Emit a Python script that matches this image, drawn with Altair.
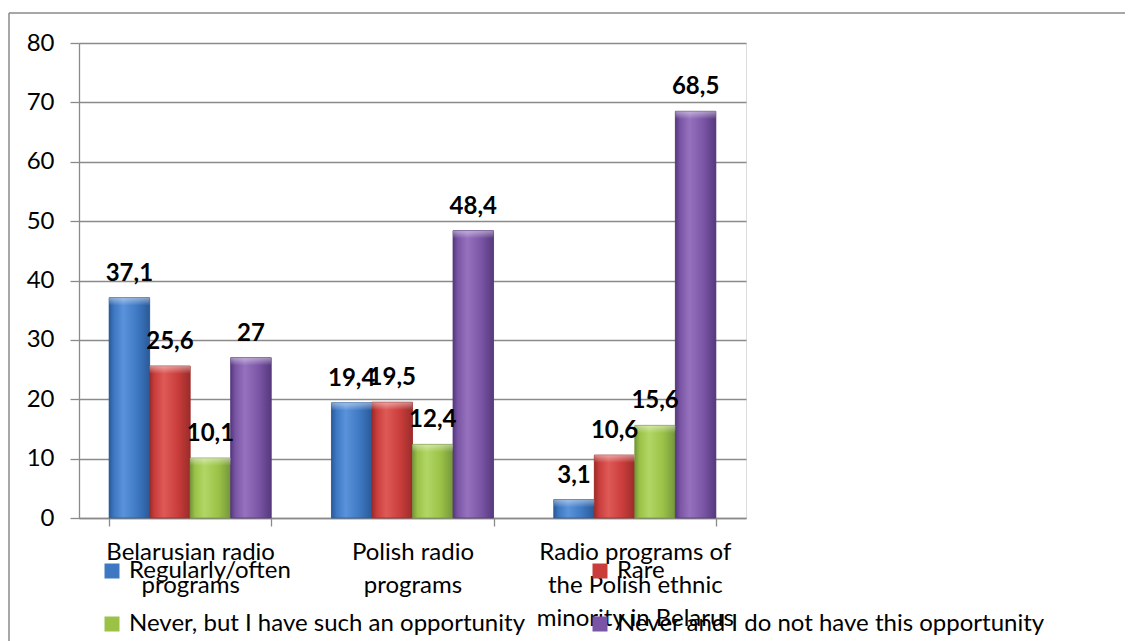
import altair as alt
import pandas as pd

# ---- data ----
categories = [
    "Belarusian radio|programs",
    "Polish radio|programs",
    "Radio programs of|the Polish ethnic|minority in Belarus",
]
series = [
    "Regularly/often",
    "Rare",
    "Never, but I have such an opportunity",
    "Never and I do not have this opportunity",
]
regularly = [37.1, 19.4, 3.1]
rare = [25.6, 19.5, 10.6]
never_opportunity = [10.1, 12.4, 15.6]
never_no_opportunity = [27.0, 48.4, 68.5]
y_ticks = [0, 10, 20, 30, 40, 50, 60, 70, 80]

colors = ["#3E78C2", "#C93D3B", "#9BC247", "#7A55A5"]
edge = ["#2A5A99", "#9A2C2A", "#74963A", "#56397E"]
light = ["#5A93DA", "#DE5A57", "#B2D665", "#9572BE"]


def fmt(v):
    s = f"{v:.1f}".replace(".", ",")
    return s[:-2] if s.endswith(",0") else s


rows = []
for s, vals in zip(series, [regularly, rare, never_opportunity, never_no_opportunity]):
    for c, v in zip(categories, vals):
        rows.append({"category": c, "series": s, "value": v, "label": fmt(v)})
df = pd.DataFrame(rows)

FONT = "Lato"
FS = 24

x_enc = alt.X(
    "category:N",
    sort=categories,
    scale=alt.Scale(paddingInner=0.271, paddingOuter=0.1355),
    axis=alt.Axis(
        title=None,
        labelAngle=0,
        labelExpr="split(datum.label, '|')",
        labelFont=FONT,
        labelFontSize=FS,
        labelColor="#000000",
        labelLineHeight=33,
        labelPadding=14,
        labelLimit=400,
        tickBand="extent",
        tickSize=8,
        tickColor="#8a8a8a",
        domainColor="#8a8a8a",
        domainWidth=1.3,
        tickWidth=1.3,
        grid=False,
    ),
)
xoff_enc = alt.XOffset("series:N", sort=series, scale=alt.Scale(paddingInner=0, paddingOuter=0))
y_enc = alt.Y(
    "value:Q",
    scale=alt.Scale(domain=[0, 80], nice=False),
    axis=alt.Axis(
        title=None,
        values=y_ticks,
        labelFont=FONT,
        labelFontSize=FS,
        labelColor="#000000",
        labelPadding=16,
        tickSize=9,
        tickColor="#8a8a8a",
        tickWidth=1.3,
        domainColor="#8a8a8a",
        domainWidth=1.3,
        grid=True,
        gridColor="#8a8a8a",
        gridWidth=1.3,
    ),
)

base = alt.Chart(df)

bars = base.mark_bar(strokeWidth=0).encode(
    x=x_enc,
    xOffset=xoff_enc,
    y=y_enc,
    color=alt.Color(
        "series:N",
        sort=series,
        scale=alt.Scale(domain=series, range=colors),
        legend=alt.Legend(
            title=None,
            orient="none",
            direction="horizontal",
            legendX=21,
            legendY=516,
            columns=2,
            columnPadding=62,
            rowPadding=29,
            padding=0,
            symbolType="square",
            symbolSize=225,
            symbolStrokeWidth=0,
            labelFont=FONT,
            labelFontSize=FS,
            labelColor="#000000",
            labelOffset=5,
            labelLimit=600,
        ),
    ),
)

layers = [bars]
cap_grad = alt.Gradient(
    gradient="linear",
    stops=[
        alt.GradientStop(color="rgba(255,255,255,0.45)", offset=0),
        alt.GradientStop(color="rgba(255,255,255,0)", offset=1),
    ],
    x1=0, x2=0, y1=0, y2=1,
)
for s, c, e, l in zip(series, colors, edge, light):
    grad = alt.Gradient(
        gradient="linear",
        stops=[
            alt.GradientStop(color=e, offset=0),
            alt.GradientStop(color=c, offset=0.12),
            alt.GradientStop(color=l, offset=0.35),
            alt.GradientStop(color=c, offset=0.7),
            alt.GradientStop(color=e, offset=1),
        ],
        x1=0, x2=1, y1=0, y2=0,
    )
    layers.append(
        base.transform_filter(alt.datum.series == s)
        .mark_bar(color=grad, stroke=e, strokeWidth=0.8)
        .encode(x=x_enc, xOffset=xoff_enc, y=y_enc)
    )

layers.append(
    base.transform_calculate(cap_bottom="max(datum.value - 1.3, 0)")
    .mark_bar(color=cap_grad, strokeWidth=0)
    .encode(x=x_enc, xOffset=xoff_enc, y=y_enc, y2="cap_bottom:Q")
)

text = base.mark_text(
    dy=-17, baseline="alphabetic", align="center", font=FONT, fontSize=FS, fontWeight="bold", color="#000000"
).encode(x=x_enc, xOffset=xoff_enc, y=y_enc, text="label:N")
layers.append(text)

border_df = pd.DataFrame({"a": [0]})
top_border = alt.Chart(border_df).mark_rule(color="#8a8a8a", strokeWidth=1.5).encode(
    x=alt.value(-70), x2=alt.value(1060), y=alt.value(-30)
)
left_border = alt.Chart(border_df).mark_rule(color="#8a8a8a", strokeWidth=1.5).encode(
    x=alt.value(-70), y=alt.value(-30), y2=alt.value(620)
)
layers += [top_border, left_border]

chart = (
    alt.layer(*layers)
    .properties(
        width=667,
        height=475,
        autosize=alt.AutoSizeParams(type="none"),
        padding={"left": 71, "top": 35, "right": 379, "bottom": 123},
    )
    .configure_view(stroke=None)
    .configure(background="#ffffff")
)

chart.save("out.html", embed_options={"renderer": "svg", "actions": False})
